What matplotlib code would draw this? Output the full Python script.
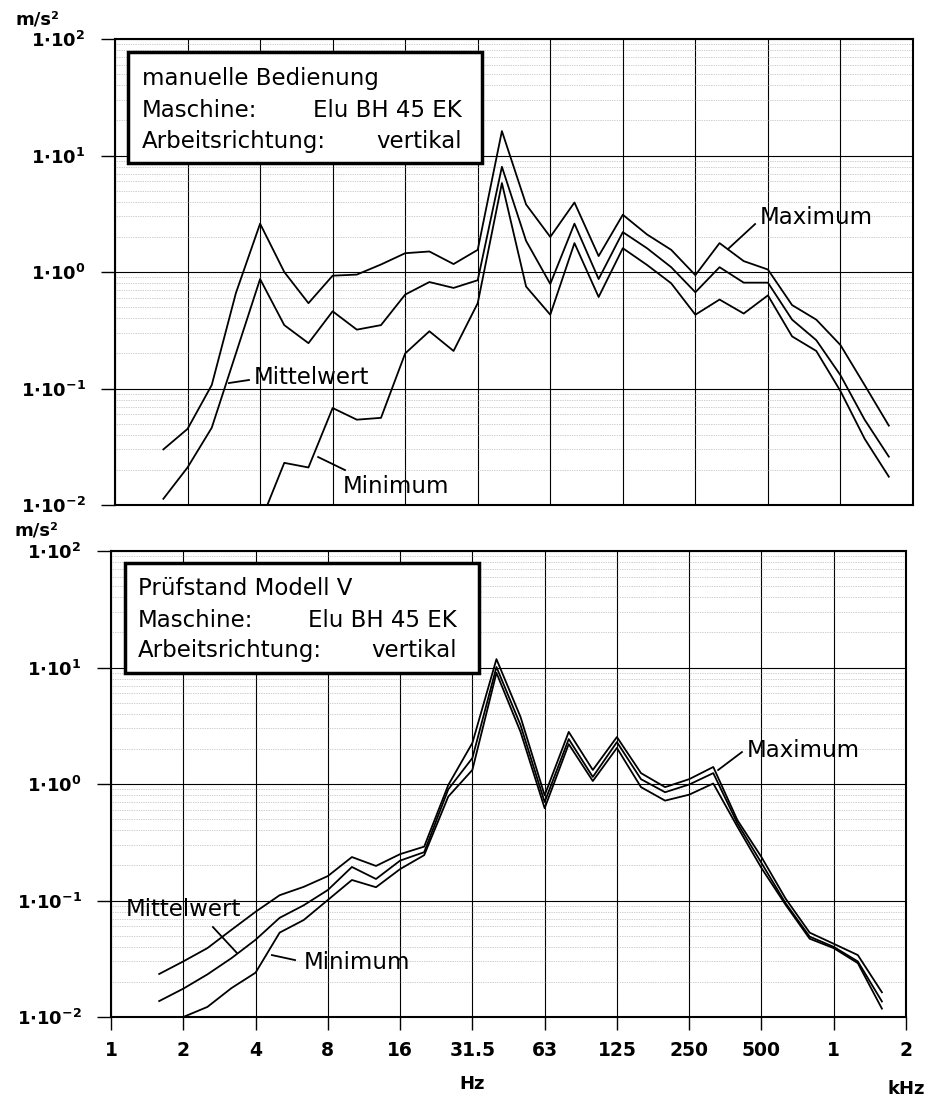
import numpy as np
import matplotlib
matplotlib.use('Agg')
import matplotlib.pyplot as plt
from matplotlib.patches import Rectangle
from matplotlib.ticker import LogLocator, NullFormatter

# third-octave bands, 1.6 Hz ... 1.6 kHz
bands = ['1.6', '2', '2.5', '3.15', '4', '5', '6.3', '8', '10', '12.5', '16',
         '20', '25', '31.5', '40', '50', '63', '80', '100', '125', '160', '200',
         '250', '315', '400', '500', '630', '800', '1000', '1250', '1600']

octave_labels = ['1', '2', '4', '8', '16', '31.5', '63', '125', '250', '500', '1', '2']
decade_labels = [r'$\mathbf{1{\cdot}10^{-2}}$', r'$\mathbf{1{\cdot}10^{-1}}$', r'$\mathbf{1{\cdot}10^{0}}$',
                 r'$\mathbf{1{\cdot}10^{1}}$', r'$\mathbf{1{\cdot}10^{2}}$']

nan = np.nan

# manuelle Bedienung
top_max = [0.030, 0.045, 0.107, 0.66, 2.6, 1.0, 0.54, 0.93, 0.95, 1.16, 1.45,
           1.5, 1.17, 1.55, 16.2, 3.8, 2.0, 3.95, 1.37, 3.1, 2.1, 1.55,
           0.94, 1.77, 1.24, 1.05, 0.52, 0.39, 0.236, 0.107, 0.048]
top_mean = [0.0113, 0.021, 0.046, 0.20, 0.87, 0.35, 0.245, 0.46, 0.32, 0.35, 0.64,
            0.82, 0.73, 0.85, 8.0, 1.85, 0.79, 2.6, 0.87, 2.2, 1.6, 1.1,
            0.67, 1.10, 0.81, 0.81, 0.39, 0.26, 0.13, 0.054, 0.026]
top_min = [nan, nan, nan, nan, 0.007, 0.023, 0.021, 0.068, 0.054, 0.056, 0.20,
           0.31, 0.21, 0.54, 5.8, 0.75, 0.43, 1.77, 0.61, 1.6, 1.15, 0.8,
           0.43, 0.58, 0.44, 0.63, 0.28, 0.21, 0.095, 0.037, 0.0175]

# Pruefstand Modell V
bot_max = [0.0234, 0.030, 0.039, 0.056, 0.080, 0.111, 0.131, 0.162, 0.236, 0.198, 0.25,
           0.29, 0.98, 2.25, 11.8, 3.76, 0.80, 2.8, 1.32, 2.53, 1.24, 0.94,
           1.10, 1.40, 0.49, 0.236, 0.104, 0.053, 0.0425, 0.034, 0.0163]
bot_mean = [0.0137, 0.0175, 0.0232, 0.032, 0.046, 0.071, 0.091, 0.123, 0.194, 0.153, 0.22,
            0.26, 0.90, 1.67, 10.1, 3.2, 0.70, 2.43, 1.15, 2.29, 1.10, 0.85,
            0.99, 1.24, 0.46, 0.21, 0.095, 0.049, 0.040, 0.030, 0.0136]
bot_min = [nan, 0.0100, 0.0122, 0.0177, 0.024, 0.053, 0.068, 0.101, 0.15, 0.13, 0.186,
           0.245, 0.78, 1.32, 9.0, 2.8, 0.62, 2.2, 1.06, 2.04, 0.94, 0.72,
           0.81, 1.01, 0.43, 0.19, 0.092, 0.047, 0.039, 0.029, 0.0118]

# band number counted from 1 Hz (= 0), 3 bands per octave
pos = np.arange(len(bands)) + 2

plt.rcParams['font.family'] = ['DejaVu Sans']
plt.rcParams['mathtext.fontset'] = 'dejavusans'

W, H = 931, 1097
fig = plt.figure(figsize=(W / 100, H / 100), dpi=100)

ax1 = fig.add_axes([115 / W, 1 - 505 / H, 798 / W, 466 / H])
ax2 = fig.add_axes([111 / W, 1 - 1017 / H, 795 / W, 466 / H])

for ax, series in ((ax1, (top_max, top_mean, top_min)), (ax2, (bot_max, bot_mean, bot_min))):
    for s in series:
        ax.plot(pos, s, color='black', lw=1.3, zorder=3)
    ax.set_yscale('log')
    ax.set_ylim(1e-2, 1e2)
    ax.set_xlim(0, 33)
    ax.set_yticks([1e-2, 1e-1, 1e0, 1e1, 1e2])
    ax.set_yticklabels(decade_labels, fontsize=13)
    ax.yaxis.set_minor_locator(LogLocator(base=10, subs=np.arange(2, 10)))
    ax.yaxis.set_minor_formatter(NullFormatter())
    ax.tick_params(axis='y', which='major', direction='out', length=10, width=1, pad=11)
    ax.tick_params(axis='y', which='minor', length=0)
    ax.set_xticks(np.arange(0, 34, 3))
    ax.grid(which='major', color='black', lw=0.8)
    ax.grid(which='minor', axis='y', color='#a0a0a0', lw=0.5, linestyle=(0, (1, 1.5)))
    ax.set_axisbelow(True)
    for sp in ax.spines.values():
        sp.set_linewidth(1.5)

ax1.set_xticklabels([])
ax1.tick_params(axis='x', length=0)
ax2.set_xticklabels(octave_labels, fontsize=13.5, fontweight='bold')
ax2.tick_params(axis='x', direction='out', length=9, width=1, pad=8)

fs = 16.5

# curve labels, top
ax1.text(26.67, 2.91, 'Maximum', fontsize=fs, ha='left', va='center')
ax1.plot([25.35, 26.47], [1.575, 2.58], color='black', lw=1.3)
ax1.text(5.75, 0.1255, 'Mittelwert', fontsize=fs, ha='left', va='center')
ax1.plot([4.71, 5.54], [0.1114, 0.1183], color='black', lw=1.3)
ax1.text(9.43, 0.01429, 'Minimum', fontsize=fs, ha='left', va='center')
ax1.plot([8.40, 9.51], [0.0258, 0.01995], color='black', lw=1.3)

# curve labels, bottom
ax2.text(26.40, 1.957, 'Maximum', fontsize=fs, ha='left', va='center')
ax2.plot([25.20, 26.19], [1.318, 1.88], color='black', lw=1.3)
ax2.text(0.62, 0.0829, 'Mittelwert', fontsize=fs, ha='left', va='center')
ax2.plot([4.23, 5.23], [0.0592, 0.0354], color='black', lw=1.3)
ax2.text(8.01, 0.0291, 'Minimum', fontsize=fs, ha='left', va='center')
ax2.plot([6.68, 7.64], [0.0340, 0.0308], color='black', lw=1.3)

# info boxes
fig.add_artist(Rectangle((128 / W, 1 - 163 / H), 354 / W, 111 / H, transform=fig.transFigure,
                         facecolor='white', edgecolor='black', lw=2.5, zorder=5))
fig.add_artist(Rectangle((125 / W, 1 - 673 / H), 354 / W, 110 / H, transform=fig.transFigure,
                         facecolor='white', edgecolor='black', lw=2.5, zorder=5))

kw = dict(fontsize=fs, va='baseline', zorder=6)
fig.text(142 / W, 1 - 85 / H, 'manuelle Bedienung', ha='left', **kw)
fig.text(142 / W, 1 - 117 / H, 'Maschine:', ha='left', **kw)
fig.text(462 / W, 1 - 117 / H, 'Elu BH 45 EK', ha='right', **kw)
fig.text(142 / W, 1 - 148 / H, 'Arbeitsrichtung:', ha='left', **kw)
fig.text(462 / W, 1 - 148 / H, 'vertikal', ha='right', **kw)

fig.text(138 / W, 1 - 595 / H, 'Prüfstand Modell V', ha='left', **kw)
fig.text(138 / W, 1 - 627 / H, 'Maschine:', ha='left', **kw)
fig.text(457 / W, 1 - 627 / H, 'Elu BH 45 EK', ha='right', **kw)
fig.text(138 / W, 1 - 657 / H, 'Arbeitsrichtung:', ha='left', **kw)
fig.text(457 / W, 1 - 657 / H, 'vertikal', ha='right', **kw)

# units
fig.text(37 / W, 1 - 19 / H, 'm/s²', fontsize=13, fontweight='bold', ha='center', va='center')
fig.text(36 / W, 1 - 530 / H, 'm/s²', fontsize=13, fontweight='bold', ha='center', va='center')
fig.text(472 / W, 1 - 1084 / H, 'Hz', fontsize=13, fontweight='bold', ha='center', va='center')
fig.text(906 / W, 1 - 1089 / H, 'kHz', fontsize=13, fontweight='bold', ha='center', va='center')

fig.savefig('out.png', dpi=100, facecolor='white')
